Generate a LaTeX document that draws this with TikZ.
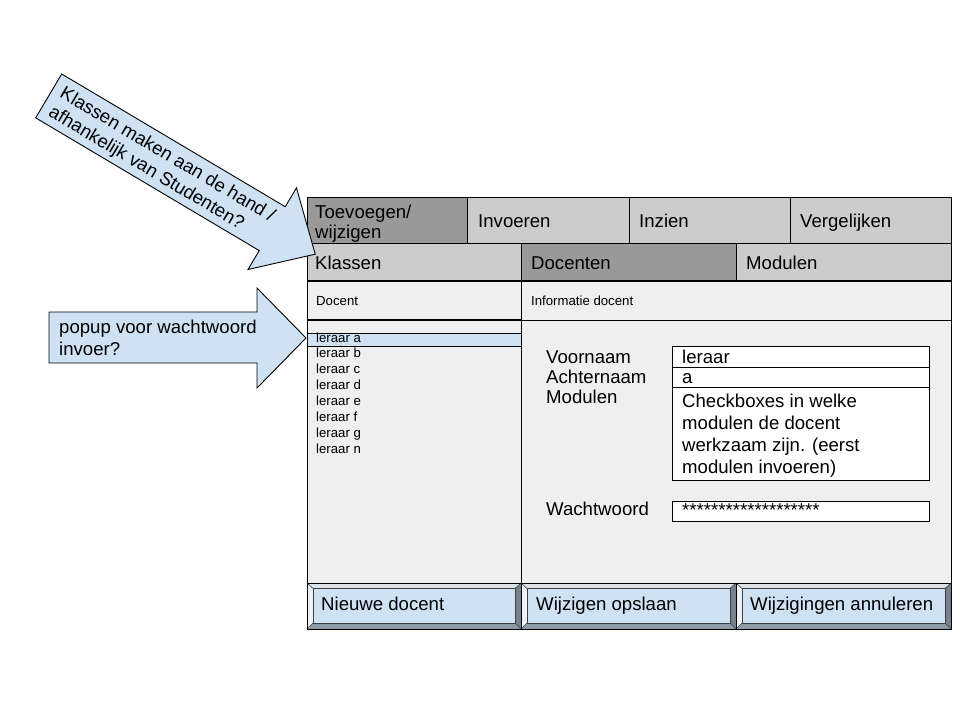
\documentclass[tikz,border=0pt]{standalone}
\usepackage{fontspec}
\setmainfont{Liberation Sans}
\definecolor{tabdark}{HTML}{999999}
\definecolor{tablight}{HTML}{CCCCCC}
\definecolor{panel}{HTML}{EFEFEF}
\definecolor{lblue}{HTML}{CFE2F3}
\definecolor{bevtop}{HTML}{DCE2E8}
\definecolor{bevleft}{HTML}{EEF2F6}
\definecolor{bevright}{HTML}{76828E}
\definecolor{bevbot}{HTML}{8E9AA6}
\begin{document}
\begin{tikzpicture}[x=1pt,y=-1pt,
  big/.style={anchor=base west, inner sep=0pt, font=\fontsize{18.6}{21}\selectfont},
  small/.style={anchor=base west, inner sep=0pt, font=\fontsize{13.2}{15}\selectfont},
  box/.style={draw=black, line width=0.9pt},
  arrowshape/.style={draw=black, line width=0.9pt, fill=lblue, line join=miter},
]
\useasboundingbox[fill=white] (0,0) rectangle (960,720);

% top tab row
\draw[box, fill=tabdark]  (307,197) rectangle (467,243);
\draw[box, fill=tablight] (467,197) rectangle (629,243);
\draw[box, fill=tablight] (629,197) rectangle (790,243);
\draw[box, fill=tablight] (790,197) rectangle (951,243);
% second tab row
\draw[box, fill=tablight] (307,243) rectangle (521,281);
\draw[box, fill=tabdark]  (521,243) rectangle (736,281);
\draw[box, fill=tablight] (736,243) rectangle (951,281);
% headers
\draw[box, fill=panel] (307,281) rectangle (521,320);
\draw[box, fill=panel] (521,281) rectangle (951,320);
% bodies
\draw[box, fill=panel] (307,320) rectangle (521,583);
\draw[box, fill=panel] (521,320) rectangle (951,583);
% thick separators
\draw[line width=2.2pt] (307,281) -- (951,281);
\draw[line width=2.2pt] (307,320) -- (521,320);
% selected row
\draw[box, fill=lblue] (307,333) rectangle (521,346);

% fields
\draw[box, fill=white] (672,346) rectangle (929,367);
\draw[box, fill=white] (672,367) rectangle (929,387);
\draw[box, fill=white] (672,387) rectangle (929,480);
\draw[box, fill=white] (672,501) rectangle (929,521);

% bevel buttons
\foreach \a/\b in {307/521, 521/736, 736/951}{
  \fill[bevtop] (\a,583) -- (\b,583) -- ({\b-6},588.5) -- ({\a+6},588.5) -- cycle;
  \fill[bevbot] (\a,629) -- (\b,629) -- ({\b-6},623) -- ({\a+6},623) -- cycle;
  \fill[bevleft] (\a,583) -- ({\a+6},588.5) -- ({\a+6},623) -- (\a,629) -- cycle;
  \fill[bevright] (\b,583) -- ({\b-6},588.5) -- ({\b-6},623) -- (\b,629) -- cycle;
  \fill[lblue] ({\a+6},588.5) rectangle ({\b-6},623);
  \draw[line width=0.6pt, black!75] ({\a+6},588.5) rectangle ({\b-6},623);
  \draw[line width=0.6pt, black!75] (\a,583) -- ({\a+6},588.5) (\b,583) -- ({\b-6},588.5)
     (\a,629) -- ({\a+6},623) (\b,629) -- ({\b-6},623);
  \draw[box] (\a,583) rectangle (\b,629);
}

% tab texts
\node[big] (t1a) at (315,218) {Toevoegen/};
\node[big] (t1b) at (315,238) {wijzigen};
\node[big] (t2) at (478,227) {Invoeren};
\node[big] (t3) at (639,227) {Inzien};
\node[big] (t4) at (800,227) {Vergelijken};
\node[big] (s1) at (315,269) {Klassen};
\node[big] (s2) at (531,269) {Docenten};
\node[big] (s3) at (746,269) {Modulen};
\node[small] (h1) at (316,305) {Docent};
\node[small] (h2) at (531,305) {Informatie docent};

% list
\foreach \t [count=\i from 0] in {a,b,c,d,e,f,g,n}
  \node[small] (l\t) at (316,{342+15.86*\i}) {leraar \t};

% form labels
\node[big] (fv) at (546,363) {Voornaam};
\node[big] (fa) at (546,383) {Achternaam};
\node[big] (fm) at (546,403) {Modulen};
\node[big] (fw) at (546,515) {Wachtwoord};
% form values
\node[big] (vv) at (682,363) {leraar};
\node[big] (va) at (682,383.5) {a};
\node[big] (vm1) at (682,407) {Checkboxes in welke};
\node[big] (vm2) at (682,429) {modulen de docent};
\node[big] (vm3) at (682,451) {werkzaam zijn. (eerst};
\node[big] (vm4) at (682,473) {modulen invoeren)};
\node[big] (vw) at (682,516) {*******************};

% button texts
\node[big] (b1) at (321,610) {Nieuwe docent};
\node[big] (b2) at (536,610) {Wijzigen opslaan};
\node[big] (b3) at (750,610) {Wijzigingen annuleren};

% arrow 2 (horizontal)
\draw[arrowshape] (49,312) -- (257,312) -- (257,288) -- (306,338) -- (257,388) -- (257,363) -- (49,363) -- cycle;
\node[big] (p1) at (59,333.5) {popup voor wachtwoord};
\node[big] (p2) at (59,355.5) {invoer?};

% arrow 1 (diagonal)
\begin{scope}[shift={(61.7,74)}, rotate=-30.7]
  \draw[arrowshape] (0,0) -- (260,0) -- (260,-22) -- (310,25.5) -- (260,73) -- (260,51) -- (0,51) -- cycle;
  \node[big, rotate=-30.7] (k1) at (9,21) {Klassen maken aan de hand /};
  \node[big, rotate=-30.7] (k2) at (9,43) {afhankelijk van Studenten?};
\end{scope}
\end{tikzpicture}
\end{document}
